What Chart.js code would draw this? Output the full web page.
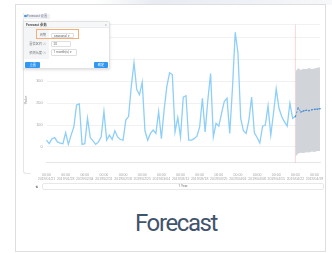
<!DOCTYPE html>
<html>
<head>
<meta charset="utf-8">
<script src="https://cdn.jsdelivr.net/npm/chart.js"></script>
<style>
  body { margin:0; width:332px; height:253px; background:#fff; overflow:hidden; position:relative;
         font-family: Roboto, "Noto Sans CJK SC", sans-serif; }
  .abs { position:absolute; box-sizing:border-box; }
  .deco { left:95px; top:0; width:237px; height:5px;
          background:linear-gradient(100deg, rgba(255,255,255,0) 0%, #e8ecf2 25%, #eef1f5 65%, #f7f8fa 100%); }
  .card { left:14.5px; top:4px; width:311px; height:248px; border:1px solid #dedede; background:#fff; }
  #c { position:absolute; left:0; top:0; }
  .panel { left:22.5px; top:13px; width:8px; height:161px; border-left:1px solid #e6e6e6;
           border-bottom:1px solid #e6e6e6; border-bottom-left-radius:3px; }
  .tab { left:23px; top:13.5px; width:27px; height:5.5px; background:#eef1f5; border-radius:1px;
         font-size:3.3px; line-height:5.5px; color:#778; padding-left:4px; }
  .tab:before { content:""; position:absolute; left:1.3px; top:1.6px; width:2.3px; height:2.3px; border-radius:50%; background:#3d93ee; }
  .ytitle { left:20px; top:98px; width:12px; height:4px; font-size:3.5px; line-height:4px; color:#999;
            text-align:center; transform:rotate(-90deg); }
  .dlg { left:23px; top:21px; width:87px; height:47.5px; background:#fff; border:1px solid #e2e2e2;
         box-shadow:0 1px 3px rgba(0,0,0,0.13); border-radius:1.5px; }
  .dhead { left:0; top:0; width:85px; height:6px; background:#f6f7f8; border-bottom:1px solid #ececec;
           font-size:3.4px; line-height:6px; padding-left:2px; color:#555; font-weight:bold; }
  .dclose { right:2px; top:0; font-size:4px; line-height:6px; color:#bbb; }
  .lcol { left:0; top:6px; width:25px; height:31px; background:#f4f5f6; }
  .lbl { font-size:3.2px; color:#777; text-align:right; width:22px; left:0; }
  .box { border:1px solid #dfdfdf; border-radius:1px; font-size:3.2px; color:#666; padding-left:2px; background:#fff; }
  .hl { left:36px; top:29px; width:42.5px; height:9.5px; border:1px solid #f7ad78; }
  .btn { background:#3197f1; border-radius:1px; color:#fff; font-size:3.2px; text-align:center; line-height:6px; height:6px; }
  .slider { left:42px; top:182.5px; width:282px; height:7.5px; border:1px solid #e8e8e8; border-radius:2px;
            font-size:3.3px; line-height:5.5px; color:#777; text-align:center; }
  .sl-lbl { left:35.5px; top:183px; font-size:5px; line-height:6px; color:#444; font-weight:bold; }
  .title { left:135px; top:211px; font-size:24px; line-height:24px; color:#42536c; letter-spacing:-1.4px; }
</style>
</head>
<body>
<div class="abs deco"></div>
<div class="abs card"></div>
<canvas id="c" width="332" height="200"></canvas>
<div class="abs panel"></div>
<div class="abs tab">Forecast 设置</div>
<div class="abs ytitle">Value</div>

<div class="abs dlg">
  <div class="abs dhead">Forecast 参数</div>
  <div class="abs dclose">×</div>
  <div class="abs lcol"></div>
  <div class="abs lbl" style="top:10px;">周期</div>
  <div class="abs lbl" style="top:19px;">置信区间 ⓘ</div>
  <div class="abs lbl" style="top:28px;">预测长度 ⓘ</div>
  <div class="abs box" style="left:27px;top:10.5px;width:23px;height:5.5px;line-height:4px;">seasonal &nbsp;▾</div>
  <div class="abs box" style="left:26.5px;top:19px;width:20.5px;height:6px;line-height:4.5px;">20</div>
  <div class="abs box" style="left:26.5px;top:27px;width:26.5px;height:7px;line-height:5px;">1 month(s) ▾</div>
  <div class="abs btn" style="left:1.3px;top:39.7px;width:15px;">重置</div>
  <div class="abs btn" style="left:69.7px;top:39.7px;width:14.6px;">确定</div>
</div>
<div class="abs hl"></div>

<div class="abs sl-lbl">«</div>
<div class="abs slider">1 Year</div>
<div class="abs title">Forecast</div>

<script>
// observed series, one value per day
const history = [
  31, 15, 38, 43, 23, 18, 15, 65, 12, 54,
  92, 192, 197, 12, 15, 131, 43, 28, 12, 23,
  46, 162, 31, 54, 34, 74, 46, 34, 31, 123,
  139, 277, 385, 262, 239, 296, 74, 31, 62, 77,
  62, 162, 38, 169, 277, 339, 331, 69, 135, 46,
  228, 234, 31, 31, 38, 49, 92, 223, 69, 216,
  336, 46, 108, 95, 154, 208, 223, 62, 270, 524,
  431, 131, 74, 62, 123, 228, 65, 43, 18, 95,
  100, 188, 54, 154, 265, 177, 139, 115, 95, 200,
  131, 139
];
// forecast starts at the last observed point
const forecast = [139, 178, 160, 165, 168, 166, 170, 172, 173, 175];
const upper    = [345, 360, 352, 358, 355, 361, 357, 359, 362, 364];
const lower    = [-45, -30, -26, -28, -24, -25, -21, -23, -19, -18];

const tickDates = [
  "2019/01/21", "2019/01/28", "2019/02/04", "2019/02/11", "2019/02/18",
  "2019/02/25", "2019/03/04", "2019/03/11", "2019/03/18", "2019/03/25",
  "2019/04/01", "2019/04/08", "2019/04/15", "2019/04/22", "2019/04/29"
];
const tickEvery = 7;
const yTicks = [0, 100, 200, 300, 400, 500, 560];

const forecastStart = history.length - 1;
const total = forecastStart + forecast.length;
const categories = [];
for (let i = 0; i < total; i++) categories.push(i);

const pad = arr => new Array(forecastStart).fill(null).concat(arr);

const markLine = {
  id: "markLine",
  beforeDatasetsDraw(chart) {
    const ctx = chart.ctx;
    const x = chart.scales.x.getPixelForValue(forecastStart);
    ctx.save();
    ctx.strokeStyle = "rgba(240,140,150,0.45)";
    ctx.lineWidth = 0.8;
    ctx.beginPath();
    ctx.moveTo(x, chart.chartArea.top);
    ctx.lineTo(x, chart.chartArea.bottom);
    ctx.stroke();
    ctx.restore();
  }
};

new Chart(document.getElementById("c"), {
  type: "line",
  data: {
    labels: categories,
    datasets: [
      { data: pad(forecast), borderColor: "#4a8cd6", borderWidth: 0.9, borderDash: [2, 1.5],
        pointRadius: 0.8, pointBackgroundColor: "#4a8cd6", pointBorderWidth: 0, fill: false },
      { data: history, borderColor: "#8dcff8", borderWidth: 1.3, pointRadius: 0, fill: false, tension: 0 },
      { data: pad(upper), borderWidth: 0, pointRadius: 0, fill: false },
      { data: pad(lower), borderWidth: 0, pointRadius: 0, fill: "-1", backgroundColor: "#d1d4d8" }
    ]
  },
  options: {
    responsive: false,
    animation: false,
    layout: { padding: { left: 0, right: 12, top: 24.5, bottom: 0 } },
    plugins: { legend: { display: false }, tooltip: { enabled: false } },
    scales: {
      x: {
        grid: { display: false },
        border: { color: "#e6e6e6" },
        afterBuildTicks: s => { s.ticks = s.ticks.filter(t => t.value % tickEvery === 0); },
        afterFit: s => { s.height = 37.3; },
        ticks: {
          autoSkip: false, maxRotation: 0, padding: 3,
          font: { size: 3.5, lineHeight: 0.95 }, color: "#a5a5a5",
          callback: v => v % tickEvery === 0 ? ["00:00", tickDates[v / tickEvery]] : ""
        }
      },
      y: {
        min: -72, max: 560,
        afterBuildTicks: s => { s.ticks = yTicks.map(v => ({ value: v })); },
        afterFit: s => { s.width = 46.5; },
        grid: { color: "#eeeeee", drawTicks: false, lineWidth: 0.8 },
        border: { display: false },
        ticks: { font: { size: 3.8 }, color: "#a5a5a5", padding: 4 }
      }
    }
  },
  plugins: [markLine]
});
</script>
</body>
</html>
